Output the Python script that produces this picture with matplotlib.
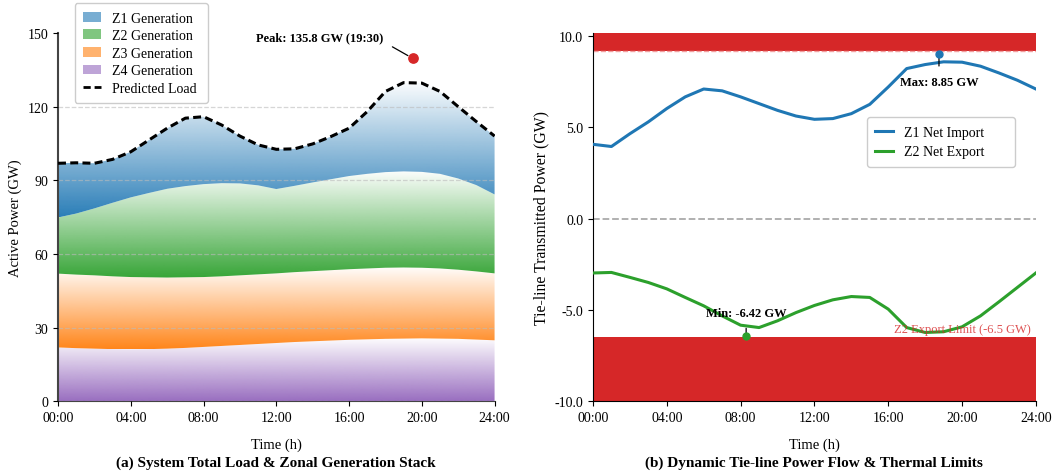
import numpy as np
import matplotlib
matplotlib.use("Agg")
import matplotlib.pyplot as plt
from matplotlib.colors import to_rgb
from matplotlib.patches import Patch
from matplotlib.lines import Line2D

plt.rcParams['font.family'] = ['Liberation Serif', 'DejaVu Serif']
plt.rcParams['font.size'] = 10

# ---- data ----
hours = np.arange(0, 25)
tick_hours = [0, 4, 8, 12, 16, 20, 24]
tick_labels = ['00:00', '04:00', '08:00', '12:00', '16:00', '20:00', '24:00']

z4_gen = [21.9, 21.6, 21.4, 21.2, 21.1, 21.2, 21.4, 21.7, 22.1, 22.5, 22.9, 23.3, 23.7,
          24.1, 24.4, 24.7, 25.0, 25.2, 25.4, 25.5, 25.6, 25.5, 25.4, 25.1, 24.8]
z3_gen = [30.1, 30.0, 29.9, 29.7, 29.5, 29.3, 29.0, 28.8, 28.5, 28.4, 28.4, 28.4, 28.4,
          28.5, 28.6, 28.7, 28.8, 28.9, 29.0, 29.0, 28.8, 28.6, 28.2, 27.8, 27.3]
z2_gen = [22.9, 24.9, 27.3, 30.0, 32.5, 34.4, 36.2, 37.2, 37.9, 38.0, 37.5, 36.3, 34.4,
          35.2, 36.2, 37.1, 38.0, 38.6, 39.0, 39.2, 39.1, 38.6, 37.2, 35.2, 32.2]
z1_gen = [22.1, 20.7, 18.4, 17.7, 18.6, 21.6, 24.7, 27.7, 27.5, 23.7, 19.3, 16.5, 16.2,
          15.1, 15.7, 17.4, 19.5, 25.4, 32.9, 36.2, 36.2, 33.6, 29.3, 25.9, 23.8]
pred_load = [97.0, 97.2, 97.0, 98.6, 101.7, 106.5, 111.3, 115.4, 116.0, 112.6, 108.1, 104.5, 102.7,
             102.9, 104.9, 107.9, 111.3, 118.1, 126.3, 129.9, 129.7, 126.3, 120.1, 114.0, 108.1]
peak_point = (19.5, 139.8)
peak_text = 'Peak: 135.8 GW (19:30)'

z1_import = [4.07, 3.95, 4.65, 5.3, 6.03, 6.67, 7.1, 7.0, 6.67, 6.3, 5.93, 5.62, 5.44,
             5.48, 5.75, 6.26, 7.21, 8.22, 8.44, 8.59, 8.57, 8.35, 7.98, 7.58, 7.1]
z2_export = [-2.98, -2.95, -3.22, -3.5, -3.85, -4.32, -4.78, -5.33, -5.84, -5.97, -5.6, -5.15, -4.76,
             -4.45, -4.27, -4.32, -4.96, -5.97, -6.24, -6.2, -5.93, -5.33, -4.56, -3.77, -2.98]
z1_limit = 9.2
z2_limit = -6.5
max_point = (18.75, 9.0)
max_text = 'Max: 8.85 GW'
min_point = (8.3, -6.43)
min_text = 'Min: -6.42 GW'

colors = ['#1f77b4', '#2ca02c', '#ff7f0e', '#9467bd']
red = '#d62728'


def gradient_band(ax, x, lo, hi, color, z):
    poly = ax.fill_between(x, lo, hi, facecolor='none', edgecolor='none')
    img = np.zeros((256, 1, 4))
    img[:, :, :3] = to_rgb(color)
    img[:, 0, 3] = np.linspace(0.95, 0.02, 256)
    im = ax.imshow(img, aspect='auto', origin='lower', zorder=z,
                   extent=[x.min(), x.max(), np.min(lo), np.max(hi)])
    im.set_clip_path(poly.get_paths()[0], transform=ax.transData)


fig = plt.figure(figsize=(10.57, 4.77), dpi=100)
ax1 = fig.add_axes([0.0549, 0.157, 0.413, 0.771])
ax2 = fig.add_axes([0.561, 0.157, 0.419, 0.771])

# ---- (a) stacked generation ----
b4 = np.array(z4_gen)
b3 = b4 + np.array(z3_gen)
b2 = b3 + np.array(z2_gen)
b1 = b2 + np.array(z1_gen)
gradient_band(ax1, hours, np.zeros_like(b4), b4, colors[3], 1)
gradient_band(ax1, hours, b4, b3, colors[2], 1)
gradient_band(ax1, hours, b3, b2, colors[1], 1)
gradient_band(ax1, hours, b2, b1, colors[0], 1)
ax1.plot(hours, pred_load, color='black', lw=2.2, ls=(0, (2.6, 1.4)), zorder=4)
ax1.scatter([peak_point[0]], [peak_point[1]], s=45, color=red, zorder=5)
ax1.annotate(peak_text, xy=peak_point, xytext=(14.4, 148.5), fontsize=9, fontweight='bold',
             ha='center', va='center',
             arrowprops=dict(arrowstyle='-', color='black', lw=0.9, relpos=(1, 0.1),
                             shrinkA=5, shrinkB=4))

ax1.set_xlim(0, 24)
ax1.set_ylim(0, 150)
ax1.set_yticks([0, 30, 60, 90, 120, 150])
ax1.set_xticks(tick_hours)
ax1.set_xticklabels(tick_labels)
ax1.yaxis.grid(True, ls='--', color='#bbbbbb', alpha=0.6, lw=0.9)
ax1.get_ygridlines()[-1].set_visible(False)
ax1.set_axisbelow(False)
for s in ['top', 'right']:
    ax1.spines[s].set_visible(False)
ax1.spines['left'].set_color('#444444')
ax1.spines['left'].set_linewidth(1.5)
ax1.spines['bottom'].set_color('#444444')
ax1.set_ylabel('Active Power (GW)', fontsize=10.5)
ax1.set_xlabel('Time (h)', fontsize=10.5, labelpad=10)
ax1.text(0.5, -0.166, '(a) System Total Load & Zonal Generation Stack', transform=ax1.transAxes,
         ha='center', va='center', fontsize=11, fontweight='bold')

handles = [Patch(facecolor=c, alpha=0.6) for c in colors]
handles.append(Line2D([0], [0], color='black', lw=2, ls=(0, (2.6, 1.4))))
ax1.legend(handles, ['Z1 Generation', 'Z2 Generation', 'Z3 Generation', 'Z4 Generation', 'Predicted Load'],
           loc='upper left', bbox_to_anchor=(0.038, 0.8, 0.305, 0.282), mode='expand',
           borderaxespad=0, fontsize=10, frameon=True, fancybox=True, edgecolor='#cccccc',
           framealpha=1, handlelength=1.3, handletextpad=0.8, labelspacing=0.33, borderpad=0.6)

# ---- (b) tie-line flow ----
ax2.axhspan(z1_limit, 11, color=red, lw=0, zorder=1)
ax2.axhspan(-11, z2_limit, color=red, lw=0, zorder=1)
ax2.axhline(z1_limit, color='#f2a0a0', ls='--', lw=1, zorder=1.5)
ax2.axhline(0, color='#aaaaaa', ls='--', lw=1.3, zorder=1.5)
ax2.plot(hours, z1_import, color=colors[0], lw=2.2, label='Z1 Net Import', zorder=3)
ax2.plot(hours, z2_export, color=colors[1], lw=2.2, label='Z2 Net Export', zorder=3)
ax2.text(23.7, z2_limit + 0.1, 'Z2 Export Limit (-6.5 GW)', color=red, alpha=0.8, fontsize=9,
         ha='right', va='bottom', zorder=4)

ax2.scatter([max_point[0]], [max_point[1]], s=25, color=colors[0], zorder=5)
ax2.annotate(max_text, xy=max_point, xytext=(max_point[0], 7.5), fontsize=9, fontweight='bold',
             ha='center', va='center',
             arrowprops=dict(arrowstyle='-', color='black', lw=0.9, shrinkA=5, shrinkB=2))
ax2.scatter([min_point[0]], [min_point[1]], s=25, color=colors[1], zorder=5)
ax2.annotate(min_text, xy=min_point, xytext=(min_point[0], -5.15), fontsize=9, fontweight='bold',
             ha='center', va='center',
             arrowprops=dict(arrowstyle='-', color='black', lw=0.9, shrinkA=5, shrinkB=2))

ax2.set_xlim(0, 24)
ax2.set_ylim(-10, 10.15)
ax2.set_yticks([-10, -5, 0, 5, 10])
ax2.set_yticklabels(['-10.0', '-5.0', '0.0', '5.0', '10.0'])
ax2.set_xticks(tick_hours)
ax2.set_xticklabels(tick_labels)
for s in ['top', 'right']:
    ax2.spines[s].set_visible(False)
ax2.set_ylabel('Tie-line Transmitted Power (GW)', fontsize=11.3)
ax2.set_xlabel('Time (h)', fontsize=10.5, labelpad=10)
ax2.text(0.5, -0.166, '(b) Dynamic Tie-line Power Flow & Thermal Limits', transform=ax2.transAxes,
         ha='center', va='center', fontsize=11, fontweight='bold')
ax2.legend(loc='upper left', bbox_to_anchor=(0.619, 0.5, 0.334, 0.272), mode='expand',
           borderaxespad=0, fontsize=10, fancybox=True, edgecolor='#cccccc', framealpha=1,
           handlelength=1.25, handletextpad=0.8, borderpad=0.6, labelspacing=0.5)

fig.savefig('out.png', dpi=100)
